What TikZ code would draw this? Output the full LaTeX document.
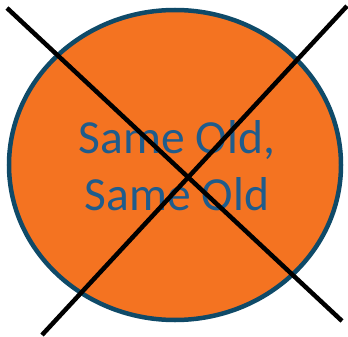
\documentclass[tikz,border=0pt]{standalone}
\usepackage{fontspec}
\setmainfont{Carlito}
\usetikzlibrary{shapes.geometric}
\definecolor{fillor}{HTML}{F47321}
\definecolor{edgeblue}{HTML}{0F4A68}
\definecolor{textblue}{HTML}{1F5C8C}
\tikzset{
  blob/.style={ellipse, draw=edgeblue, fill=fillor, line width=4.5pt, minimum width=332pt, minimum height=310pt, inner sep=0pt},
  label/.style={text=textblue, font=\fontsize{47.5}{57}\selectfont, align=center},
  cross/.style={draw=black, line width=4.5pt}
}
\begin{document}
\begin{tikzpicture}[x=1pt,y=-1pt]
\useasboundingbox (0,0) rectangle (348,337);
\node[blob] (e) at (175,165) {};
\node[label] (t) at (177,166) {Same Old,\\Same Old};
\coordinate (a1) at (7,8);
\coordinate (a2) at (342,321);
\coordinate (b1) at (42,335);
\coordinate (b2) at (347,6);
\draw[cross] (a1) -- (a2);
\draw[cross] (b1) -- (b2);
\end{tikzpicture}
\end{document}
